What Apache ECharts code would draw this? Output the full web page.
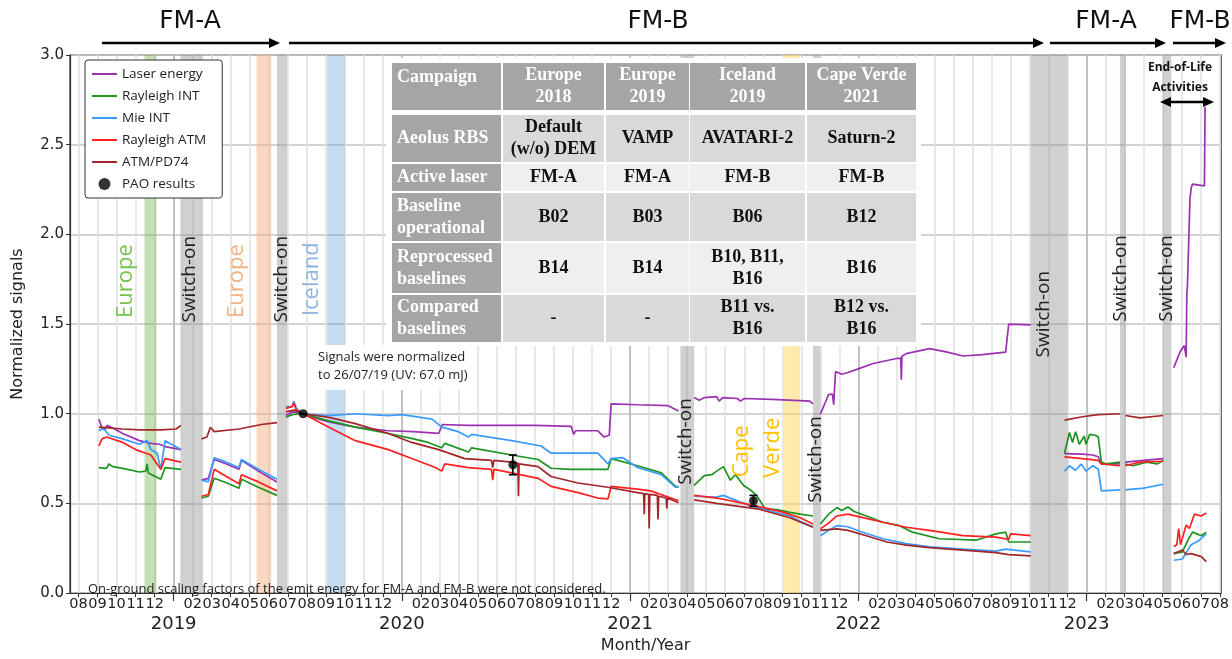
<!DOCTYPE html>
<html>
<head>
<meta charset="utf-8">
<script src="https://cdn.jsdelivr.net/npm/echarts@6/dist/echarts.min.js"></script>
<style>
  html, body { margin: 0; padding: 0; background: #fff; }
  #main { width: 1232px; height: 659px; }
</style>
</head>
<body>
<div id="main"></div>
<script>
// values, dates as yyyy-mm-dd, null = data gap
var laserEnergy = [
  ['2018-09-03',0.97],['2018-09-08',0.92],['2018-09-12',0.91],['2018-09-16',0.935],['2018-09-25',0.92],['2018-10-11',0.89],['2018-11-07',0.85],['2018-11-25',0.835],['2018-12-09',0.83],['2018-12-20',0.815],['2019-01-13',0.80],
  null,
  ['2019-02-14',0.63],['2019-02-24',0.64],['2019-03-05',0.745],['2019-03-25',0.72],['2019-04-14',0.69],['2019-04-18',0.74],['2019-05-15',0.68],['2019-06-14',0.62],
  null,
  ['2019-06-28',0.99],['2019-07-08',1.01],['2019-07-26',1.0],['2019-08-15',0.975],['2019-09-06',0.955],['2019-10-18',0.925],['2019-12-10',0.905],['2020-01-20',0.90],['2020-02-28',0.89],['2020-03-05',0.94],['2020-04-15',0.935],['2020-06-01',0.935],['2020-08-01',0.935],['2020-09-28',0.93],['2020-10-02',0.885],['2020-10-05',0.905],['2020-11-10',0.905],['2020-11-20',0.87],['2020-11-28',0.88],['2020-12-01',1.055],['2021-01-13',1.05],['2021-03-01',1.045],['2021-03-18',1.015],
  null,
  ['2021-04-12',1.09],['2021-04-20',1.075],['2021-04-28',1.09],['2021-05-18',1.095],['2021-05-22',1.07],['2021-05-28',1.09],['2021-06-20',1.085],['2021-06-25',1.07],['2021-07-01',1.085],['2021-08-15',1.08],['2021-09-20',1.075],['2021-10-15',1.07],['2021-10-20',1.055],
  null,
  ['2021-11-01',0.997],['2021-11-14',1.107],['2021-11-20',1.11],['2021-11-22',1.05],['2021-11-25',1.235],['2021-12-05',1.22],['2021-12-15',1.23],['2022-01-03',1.253],['2022-01-25',1.28],['2022-03-01',1.308],['2022-03-08',1.31],['2022-03-09',1.19],['2022-03-10',1.32],['2022-03-17',1.335],['2022-04-23',1.363],['2022-05-20',1.345],['2022-06-16',1.322],['2022-07-17',1.33],['2022-08-24',1.344],['2022-08-29',1.50],['2022-10-03',1.495],
  null,
  ['2022-11-26',0.778],['2022-12-25',0.775],['2023-01-11',0.77],['2023-01-20',0.76],['2023-01-25',0.72],['2023-02-22',0.72],
  null,
  ['2023-03-02',0.73],['2023-04-01',0.74],['2023-05-02',0.75],
  null,
  ['2023-05-19',1.256],['2023-05-24',1.30],['2023-05-30',1.35],['2023-06-05',1.38],['2023-06-08',1.315],['2023-06-09',1.656],['2023-06-10',1.715],['2023-06-12',1.72],['2023-06-14',2.20],['2023-06-16',2.26],['2023-06-18',2.28],['2023-07-07',2.27],['2023-07-08',2.71]
];

var rayleighInt = [
  ['2018-09-03',0.70],['2018-09-15',0.695],['2018-09-19',0.72],['2018-09-25',0.705],['2018-10-11',0.695],['2018-11-07',0.675],['2018-11-17',0.68],['2018-11-19',0.72],['2018-11-21',0.67],['2018-12-02',0.65],['2018-12-11',0.635],['2018-12-18',0.70],['2019-01-13',0.69],
  null,
  ['2019-02-14',0.53],['2019-02-24',0.54],['2019-03-05',0.64],['2019-03-25',0.615],['2019-04-14',0.585],['2019-04-18',0.635],['2019-05-15',0.59],['2019-06-14',0.545],
  null,
  ['2019-06-28',0.98],['2019-07-08',0.995],['2019-07-26',1.0],['2019-09-06',0.96],['2019-10-18',0.925],['2019-12-10',0.89],['2020-01-20',0.86],['2020-02-12',0.84],['2020-03-04',0.81],['2020-03-09',0.835],['2020-04-16',0.787],['2020-04-21',0.81],['2020-06-24',0.77],['2020-08-06',0.745],['2020-08-27',0.696],['2020-09-28',0.69],['2020-11-26',0.69],['2020-12-01',0.75],['2021-01-13',0.71],['2021-02-19',0.67],['2021-03-13',0.595],['2021-03-18',0.59],
  null,
  ['2021-04-12',0.60],['2021-04-28',0.655],['2021-05-10',0.66],['2021-05-18',0.68],['2021-05-29',0.705],['2021-06-09',0.63],['2021-06-17',0.66],['2021-06-30',0.60],['2021-07-11',0.575],['2021-07-22',0.54],['2021-08-04',0.47],['2021-08-23',0.465],['2021-09-13',0.45],['2021-09-29',0.44],['2021-10-20',0.43],
  null,
  ['2021-11-01',0.385],['2021-11-14',0.44],['2021-11-27',0.477],['2021-12-05',0.46],['2021-12-15',0.48],['2021-12-25',0.455],['2022-01-14',0.43],['2022-02-09',0.395],['2022-03-06',0.376],['2022-03-27',0.34],['2022-05-09',0.303],['2022-07-07',0.295],['2022-08-08',0.33],['2022-08-24',0.34],['2022-08-29',0.285],['2022-10-03',0.285],
  null,
  ['2022-11-26',0.778],['2022-12-04',0.895],['2022-12-09',0.84],['2022-12-14',0.90],['2022-12-20',0.83],['2022-12-28',0.875],['2022-12-31',0.83],['2023-01-06',0.885],['2023-01-15',0.88],['2023-01-20',0.87],['2023-01-25',0.73],['2023-02-02',0.72],['2023-02-22',0.73],
  null,
  ['2023-03-02',0.72],['2023-03-15',0.71],['2023-04-06',0.73],['2023-04-22',0.72],['2023-05-02',0.74],
  null,
  ['2023-05-19',0.22],['2023-06-02',0.23],['2023-06-13',0.31],['2023-06-18',0.34],['2023-07-02',0.32],['2023-07-10',0.34]
];

var mieInt = [
  ['2018-09-03',0.905],['2018-09-10',0.92],['2018-09-19',0.88],['2018-10-11',0.86],['2018-11-07',0.83],['2018-11-19',0.85],['2018-11-25',0.80],['2018-12-05',0.78],['2018-12-11',0.69],['2018-12-18',0.85],['2019-01-13',0.80],
  null,
  ['2019-02-14',0.63],['2019-02-24',0.62],['2019-03-05',0.755],['2019-03-25',0.73],['2019-04-14',0.70],['2019-04-18',0.745],['2019-05-15',0.69],['2019-06-14',0.635],
  null,
  ['2019-06-28',1.04],['2019-07-08',1.04],['2019-07-11',1.07],['2019-07-15',1.03],['2019-07-26',1.0],['2019-09-06',0.99],['2019-10-18',1.0],['2019-12-10',0.99],['2020-01-01',0.995],['2020-02-18',0.97],['2020-03-04',0.925],['2020-03-31',0.90],['2020-04-16',0.87],['2020-04-21',0.885],['2020-06-24',0.85],['2020-08-11',0.82],['2020-08-27',0.78],['2020-11-10',0.78],['2020-11-26',0.72],['2020-12-01',0.75],['2020-12-20',0.755],['2021-01-13',0.70],['2021-02-19',0.66],['2021-03-13',0.59],['2021-03-18',0.595],
  null,
  ['2021-04-12',0.54],['2021-05-18',0.535],['2021-05-29',0.545],['2021-07-11',0.486],['2021-08-04',0.465],['2021-09-13',0.43],['2021-09-29',0.40],['2021-10-20',0.37],
  null,
  ['2021-11-01',0.32],['2021-11-14',0.35],['2021-11-27',0.376],['2021-12-15',0.37],['2022-01-03',0.345],['2022-02-09',0.303],['2022-03-17',0.276],['2022-04-23',0.258],['2022-06-16',0.245],['2022-08-08',0.234],['2022-08-24',0.245],['2022-10-03',0.23],
  null,
  ['2022-11-26',0.68],['2022-12-04',0.71],['2022-12-14',0.685],['2022-12-23',0.72],['2022-12-31',0.68],['2023-01-11',0.71],['2023-01-20',0.69],['2023-01-25',0.57],['2023-02-22',0.575],
  null,
  ['2023-03-02',0.576],['2023-04-01',0.585],['2023-05-02',0.607],
  null,
  ['2023-05-19',0.183],['2023-06-02',0.19],['2023-06-16',0.27],['2023-06-27',0.29],['2023-07-10',0.33]
];

var rayleighAtm = [
  ['2018-09-03',0.82],['2018-09-08',0.86],['2018-09-15',0.87],['2018-10-11',0.84],['2018-11-01',0.80],['2018-11-25',0.77],['2018-12-05',0.72],['2018-12-11',0.69],['2018-12-18',0.75],['2019-01-13',0.73],
  null,
  ['2019-02-14',0.54],['2019-02-24',0.55],['2019-03-05',0.69],['2019-03-25',0.65],['2019-04-14',0.61],['2019-04-18',0.66],['2019-05-15',0.62],['2019-06-14',0.57],
  null,
  ['2019-06-28',1.03],['2019-07-08',1.04],['2019-07-11',1.06],['2019-07-15',1.02],['2019-07-26',1.0],['2019-09-06',0.925],['2019-10-18',0.85],['2019-12-10',0.80],['2020-01-17',0.75],['2020-02-23',0.70],['2020-03-04',0.68],['2020-03-09',0.72],['2020-04-16',0.70],['2020-05-23',0.69],['2020-05-25',0.63],['2020-05-27',0.69],['2020-06-24',0.67],['2020-08-06',0.64],['2020-08-27',0.595],['2020-10-09',0.56],['2020-11-10',0.53],['2020-11-26',0.525],['2020-12-01',0.595],['2021-01-13',0.58],['2021-02-03',0.57],['2021-03-18',0.515],
  null,
  ['2021-04-12',0.545],['2021-05-18',0.53],['2021-06-30',0.50],['2021-08-23',0.46],['2021-09-03',0.45],['2021-09-29',0.42],['2021-10-20',0.385],
  null,
  ['2021-11-01',0.358],['2021-11-14',0.39],['2021-11-27',0.43],['2021-12-15',0.44],['2022-01-03',0.425],['2022-02-09',0.395],['2022-03-17',0.367],['2022-04-23',0.35],['2022-06-16',0.32],['2022-08-08',0.312],['2022-08-29',0.30],['2022-09-01',0.33],['2022-10-03',0.32],
  null,
  ['2022-11-26',0.76],['2022-12-25',0.75],['2023-01-20',0.74],['2023-01-25',0.72],['2023-02-22',0.71],
  null,
  ['2023-03-02',0.71],['2023-03-26',0.73],['2023-05-02',0.735],
  null,
  ['2023-05-19',0.26],['2023-05-24',0.27],['2023-05-27',0.36],['2023-05-30',0.27],['2023-06-08',0.38],['2023-06-13',0.36],['2023-06-21',0.44],['2023-07-02',0.43],['2023-07-10',0.447]
];

var atmPd74 = [
  ['2018-09-03',0.925],['2018-10-11',0.915],['2018-11-07',0.91],['2018-12-11',0.91],['2019-01-05',0.915],['2019-01-13',0.935],
  null,
  ['2019-02-14',0.86],['2019-02-22',0.87],['2019-02-27',0.925],['2019-03-05',0.90],['2019-04-14',0.915],['2019-05-20',0.94],['2019-06-14',0.95],
  null,
  ['2019-06-28',1.01],['2019-07-11',1.02],['2019-07-26',1.0],['2019-09-06',0.98],['2019-10-18',0.945],['2019-12-10',0.89],['2020-01-17',0.84],['2020-02-28',0.80],['2020-04-10',0.75],['2020-05-23',0.74],['2020-05-25',0.70],['2020-05-27',0.74],['2020-06-24',0.73],['2020-07-04',0.725],['2020-07-05',0.54],['2020-07-06',0.72],['2020-08-06',0.705],['2020-08-27',0.65],['2020-10-09',0.614],['2020-11-26',0.59],['2021-01-13',0.56],['2021-01-23',0.555],['2021-01-24',0.44],['2021-01-25',0.555],['2021-01-31',0.55],['2021-02-01',0.36],['2021-02-02',0.55],['2021-02-13',0.545],['2021-02-14',0.41],['2021-02-15',0.54],['2021-02-26',0.53],['2021-02-27',0.47],['2021-02-28',0.53],['2021-03-18',0.504],
  null,
  ['2021-04-12',0.52],['2021-05-18',0.50],['2021-07-22',0.47],['2021-09-13',0.42],['2021-10-20',0.367],
  null,
  ['2021-11-01',0.35],['2021-11-27',0.358],['2021-12-15',0.35],['2022-01-14',0.32],['2022-02-15',0.285],['2022-03-17',0.267],['2022-04-23',0.254],['2022-06-16',0.24],['2022-08-08',0.226],['2022-08-29',0.215],['2022-10-03',0.208],
  null,
  ['2022-11-26',0.964],['2022-12-25',0.983],['2023-01-20',0.995],['2023-02-22',1.0],
  null,
  ['2023-03-02',0.99],['2023-03-26',0.977],['2023-05-02',0.99],
  null,
  ['2023-05-19',0.22],['2023-06-02',0.24],['2023-06-08',0.215],['2023-06-16',0.22],['2023-07-02',0.203],['2023-07-10',0.175]
];

// PAO results: date, value, error
var paoDates = ['2019-07-26', '2020-06-26', '2021-07-16'];
var paoValues = [1.0, 0.715, 0.515];
var paoErrors = [0, 0.055, 0.03];

// shaded periods: start, end, colour
var bands = [
  ['2018-11-15', '2018-12-04', 'rgba(112,173,71,0.4)'],
  ['2019-01-12', '2019-02-16', 'rgba(150,150,150,0.45)'],
  ['2019-05-12', '2019-06-05', 'rgba(244,177,131,0.5)'],
  ['2019-06-14', '2019-06-30', 'rgba(150,150,150,0.45)'],
  ['2019-09-03', '2019-10-01', 'rgba(91,155,213,0.35)'],
  ['2021-03-21', '2021-04-12', 'rgba(150,150,150,0.45)'],
  ['2021-09-04', '2021-09-29', 'rgba(255,217,102,0.55)'],
  ['2021-10-20', '2021-11-01', 'rgba(150,150,150,0.45)'],
  ['2022-10-03', '2022-12-01', 'rgba(150,150,150,0.45)'],
  ['2023-02-22', '2023-03-03', 'rgba(150,150,150,0.45)'],
  ['2023-05-01', '2023-05-15', 'rgba(150,150,150,0.45)']
];

// vertical labels of the shaded periods: text, anchor date, anchor value, colour, size
var bandLabels = [
  ['Europe', '2018-10-16', 1.74, '#79c24b', 22],
  ['Switch-on', '2019-01-27', 1.75, '#222', 19],
  ['Europe', '2019-04-11', 1.74, '#f4b183', 22],
  ['Switch-on', '2019-06-22', 1.75, '#222', 19],
  ['Iceland', '2019-08-09', 1.75, '#8db4e2', 22],
  ['Switch-on', '2021-03-30', 0.845, '#222', 19],
  ['Cape', '2021-06-27', 0.79, '#ffc000', 22],
  ['Verde', '2021-08-17', 0.81, '#ffc000', 22],
  ['Switch-on', '2021-10-24', 0.745, '#222', 19],
  ['Switch-on', '2022-10-24', 1.555, '#222', 19],
  ['Switch-on', '2023-02-23', 1.755, '#222', 19],
  ['Switch-on', '2023-05-07', 1.755, '#222', 19]
];

var tableHeader = ['Campaign', 'Europe\n2018', 'Europe\n2019', 'Iceland\n2019', 'Cape Verde\n2021'];
var tableRows = [
  ['Aeolus RBS', 'Default\n(w/o) DEM', 'VAMP', 'AVATARI-2', 'Saturn-2'],
  ['Active laser', 'FM-A', 'FM-A', 'FM-B', 'FM-B'],
  ['Baseline\noperational', 'B02', 'B03', 'B06', 'B12'],
  ['Reprocessed\nbaselines', 'B14', 'B14', 'B10, B11,\nB16', 'B16'],
  ['Compared\nbaselines', '-', '-', 'B11 vs.\nB16', 'B12 vs.\nB16']
];

var monthTicks = [];
for (var k = 7; k <= 67; k++) monthTicks.push(k);
var yearTicks = [12, 24, 36, 48, 60];

function toMonth(s) {
  var p = s.split('-');
  var y = +p[0], mo = +p[1], d = +p[2];
  var dim = new Date(y, mo, 0).getDate();
  return (y - 2018) * 12 + (mo - 1) + (d - 1) / dim;
}
function toSeries(arr) {
  return arr.map(function (p) { return p ? [toMonth(p[0]), p[1]] : ['-', '-']; });
}

function lineSeries(name, data, color) {
  return {
    name: name, type: 'line', data: toSeries(data), symbol: 'none',
    connectNulls: false, z: 3,
    lineStyle: { width: 1.7, color: color }, itemStyle: { color: color }
  };
}

var font = 'DejaVu Sans';
var lineIcon = 'path://M0,0 L25,0 L25,2 L0,2 Z';
var chart = echarts.init(document.getElementById('main'));

var option = {
  animation: false,
  grid: { left: 70, right: 6, top: 55, bottom: 57, show: true, borderColor: '#333', borderWidth: 1.2 },
  legend: {
    left: 85, top: 60, orient: 'vertical',
    data: [
      { name: 'Laser energy', icon: lineIcon },
      { name: 'Rayleigh INT', icon: lineIcon },
      { name: 'Mie INT', icon: lineIcon },
      { name: 'Rayleigh ATM', icon: lineIcon },
      { name: 'ATM/PD74', icon: lineIcon },
      { name: 'PAO results', icon: 'circle' }
    ],
    backgroundColor: '#fff', borderColor: '#333', borderWidth: 1, borderRadius: 3,
    padding: [7, 16, 7, 7], itemGap: 8, itemWidth: 25, itemHeight: 12,
    textStyle: { fontFamily: 'Open Sans', fontSize: 13.5, color: '#222' }
  },
  xAxis: [{
    type: 'value', min: 6.55, max: 67.07,
    name: 'Month/Year', nameLocation: 'middle', nameGap: 37,
    nameTextStyle: { fontFamily: font, fontSize: 16, color: '#222' },
    axisLine: { lineStyle: { color: '#333', width: 1.2 } },
    axisTick: { customValues: monthTicks, length: 4, lineStyle: { color: '#333' } },
    axisLabel: {
      customValues: monthTicks, margin: 3,
      formatter: function (v) {
        var m = Math.round(v);
        var mo = m % 12 + 1;
        if (mo === 1) return '{m| }\n{y|' + (2018 + m / 12) + '}';
        return '{m|' + (mo < 10 ? '0' + mo : mo) + '}';
      },
      rich: {
        m: { fontFamily: font, fontSize: 14.5, color: '#222', lineHeight: 17 },
        y: { fontFamily: font, fontSize: 18, color: '#222', lineHeight: 22 }
      }
    },
    splitLine: { show: true, lineStyle: { color: '#e0e0e0', width: 1.5 } }
  }, {
    type: 'value', min: 6.55, max: 67.07, position: 'bottom',
    axisLine: { show: false },
    axisTick: { customValues: yearTicks, length: 8, lineStyle: { color: '#333', width: 1.2 } },
    axisLabel: { show: false },
    splitLine: { show: true, lineStyle: { color: '#b3b3b3', width: 1.5 } }
  }],
  yAxis: {
    type: 'value', min: 0, max: 3, interval: 0.5,
    name: 'Normalized signals', nameLocation: 'middle', nameGap: 44,
    nameTextStyle: { fontFamily: font, fontSize: 16, color: '#222' },
    axisLine: { show: true, lineStyle: { color: '#333', width: 1.2 } },
    axisTick: { show: true, length: 4, lineStyle: { color: '#333' } },
    axisLabel: { fontFamily: font, fontSize: 15, color: '#222', margin: 6,
      formatter: function (v) { return v.toFixed(1); } },
    splitLine: { show: true, lineStyle: { color: '#c4c4c4', width: 1.5 } }
  },
  series: [
    {
      name: 'bands', type: 'line', data: [], z: 1,
      markArea: {
        silent: true,
        data: bands.map(function (b) {
          return [{ xAxis: toMonth(b[0]), itemStyle: { color: b[2], borderWidth: 0 } }, { xAxis: toMonth(b[1]) }];
        })
      }
    },
    lineSeries('Laser energy', laserEnergy, '#9b30b0'),
    lineSeries('Rayleigh INT', rayleighInt, '#1e9420'),
    lineSeries('Mie INT', mieInt, '#3a9bff'),
    lineSeries('Rayleigh ATM', rayleighAtm, '#ff2020'),
    lineSeries('ATM/PD74', atmPd74, '#a3262a'),
    {
      name: 'PAO err', type: 'custom', z: 6,
      data: paoDates.map(function (d, i) { return [toMonth(d), paoValues[i] - paoErrors[i], paoValues[i] + paoErrors[i]]; }),
      encode: { x: 0, y: [1, 2] },
      renderItem: function (params, api) {
        var lo = api.coord([api.value(0), api.value(1)]);
        var hi = api.coord([api.value(0), api.value(2)]);
        var st = { stroke: '#000', lineWidth: 1.6 };
        return { type: 'group', children: [
          { type: 'line', shape: { x1: lo[0], y1: lo[1], x2: hi[0], y2: hi[1] }, style: st },
          { type: 'line', shape: { x1: lo[0] - 4, y1: lo[1], x2: lo[0] + 4, y2: lo[1] }, style: st },
          { type: 'line', shape: { x1: hi[0] - 4, y1: hi[1], x2: hi[0] + 4, y2: hi[1] }, style: st }
        ] };
      }
    },
    {
      name: 'PAO results', type: 'scatter', z: 7, symbol: 'circle', symbolSize: 9,
      itemStyle: { color: '#000' },
      data: paoDates.map(function (d, i) { return [toMonth(d), paoValues[i]]; })
    }
  ]
};
chart.setOption(option);

// annotations, placed after the axes exist
var graphics = [];
bandLabels.forEach(function (b) {
  var p = chart.convertToPixel({ gridIndex: 0 }, [toMonth(b[1]), b[2]]);
  graphics.push({
    type: 'text', x: p[0], y: p[1], rotation: Math.PI / 2, z: 50,
    style: { text: b[0], fill: b[3], font: b[4] + 'px "Open Sans"', align: 'center', verticalAlign: 'middle' }
  });
});

graphics.push({
  type: 'text', left: 316, top: 345, z: 50,
  style: { text: 'Signals were normalized\nto 26/07/19 (UV: 67.0 mJ)', fill: '#222', font: '13px "Open Sans"',
    lineHeight: 18, backgroundColor: '#fff', padding: [3, 4, 6, 2] }
});
graphics.push({
  type: 'text', left: 88, top: 583, z: 50,
  style: { text: 'On-ground scaling factors of the emit energy for FM-A and FM-B were not considered.',
    fill: '#222', font: '13px "Open Sans"' }
});

// laser arrows at the top
function arrow(x1, x2, y, both) {
  var kids = [{ type: 'line', z: 60, shape: { x1: both ? x1 + 8 : x1, y1: y, x2: x2 - 8, y2: y }, style: { stroke: '#000', lineWidth: 2.5 } },
    { type: 'polygon', z: 60, shape: { points: [[x2 - 11, y - 5], [x2, y], [x2 - 11, y + 5]] }, style: { fill: '#000' } }];
  if (both) kids.push({ type: 'polygon', z: 60, shape: { points: [[x1 + 11, y - 5], [x1, y], [x1 + 11, y + 5]] }, style: { fill: '#000' } });
  return kids;
}
var laserSpans = [['FM-A', 102, 280, 190], ['FM-B', 289, 1044, 658], ['FM-A', 1050, 1166, 1106], ['FM-B', 1173, 1226, 1200]];
laserSpans.forEach(function (s) {
  graphics = graphics.concat(arrow(s[1], s[2], 43, false));
  graphics.push({ type: 'text', x: s[3], y: 21, z: 60,
    style: { text: s[0], fill: '#111', font: '25px "DejaVu Sans"', align: 'center', verticalAlign: 'middle' } });
});
graphics.push({ type: 'text', x: 1180, y: 78, z: 60,
  style: { text: 'End-of-Life\nActivities', fill: '#111', font: 'bold 12px "Open Sans"', align: 'center',
    verticalAlign: 'middle', lineHeight: 20 } });
graphics = graphics.concat(arrow(1160, 1214, 102, true));

// campaign table, drawn on its own layer above the shaded bands
var colX = [392, 503, 606, 690, 807];
var colW = [109, 101, 83, 115, 109];
var rowY = [63, 115, 164, 193, 243, 295];
var rowH = [47, 47, 27, 48, 50, 47];
graphics.push({ type: 'rect', zlevel: 1, z: 1, shape: { x: 386, y: 58, width: 535, height: 288 }, style: { fill: '#fff' } });
[tableHeader].concat(tableRows).forEach(function (row, r) {
  row.forEach(function (txt, c) {
    var dark = r === 0 || c === 0;
    var fill = dark ? '#a5a5a5' : (r % 2 === 1 ? '#d9d9d9' : '#efefef');
    graphics.push({ type: 'rect', zlevel: 1, z: 2, shape: { x: colX[c], y: rowY[r], width: colW[c], height: rowH[r] }, style: { fill: fill } });
    var left = c === 0;
    var ty = (r === 0 && c === 0) ? rowY[0] + 14 : rowY[r] + rowH[r] / 2;
    graphics.push({ type: 'text', zlevel: 1, z: 3, x: left ? colX[c] + 5 : colX[c] + colW[c] / 2, y: ty,
      style: { text: txt, fill: dark ? '#fff' : '#111', font: 'bold 18px "Liberation Serif"',
        align: left ? 'left' : 'center', verticalAlign: 'middle', lineHeight: 22 } });
  });
});

chart.setOption({ graphic: graphics });
</script>
</body>
</html>
